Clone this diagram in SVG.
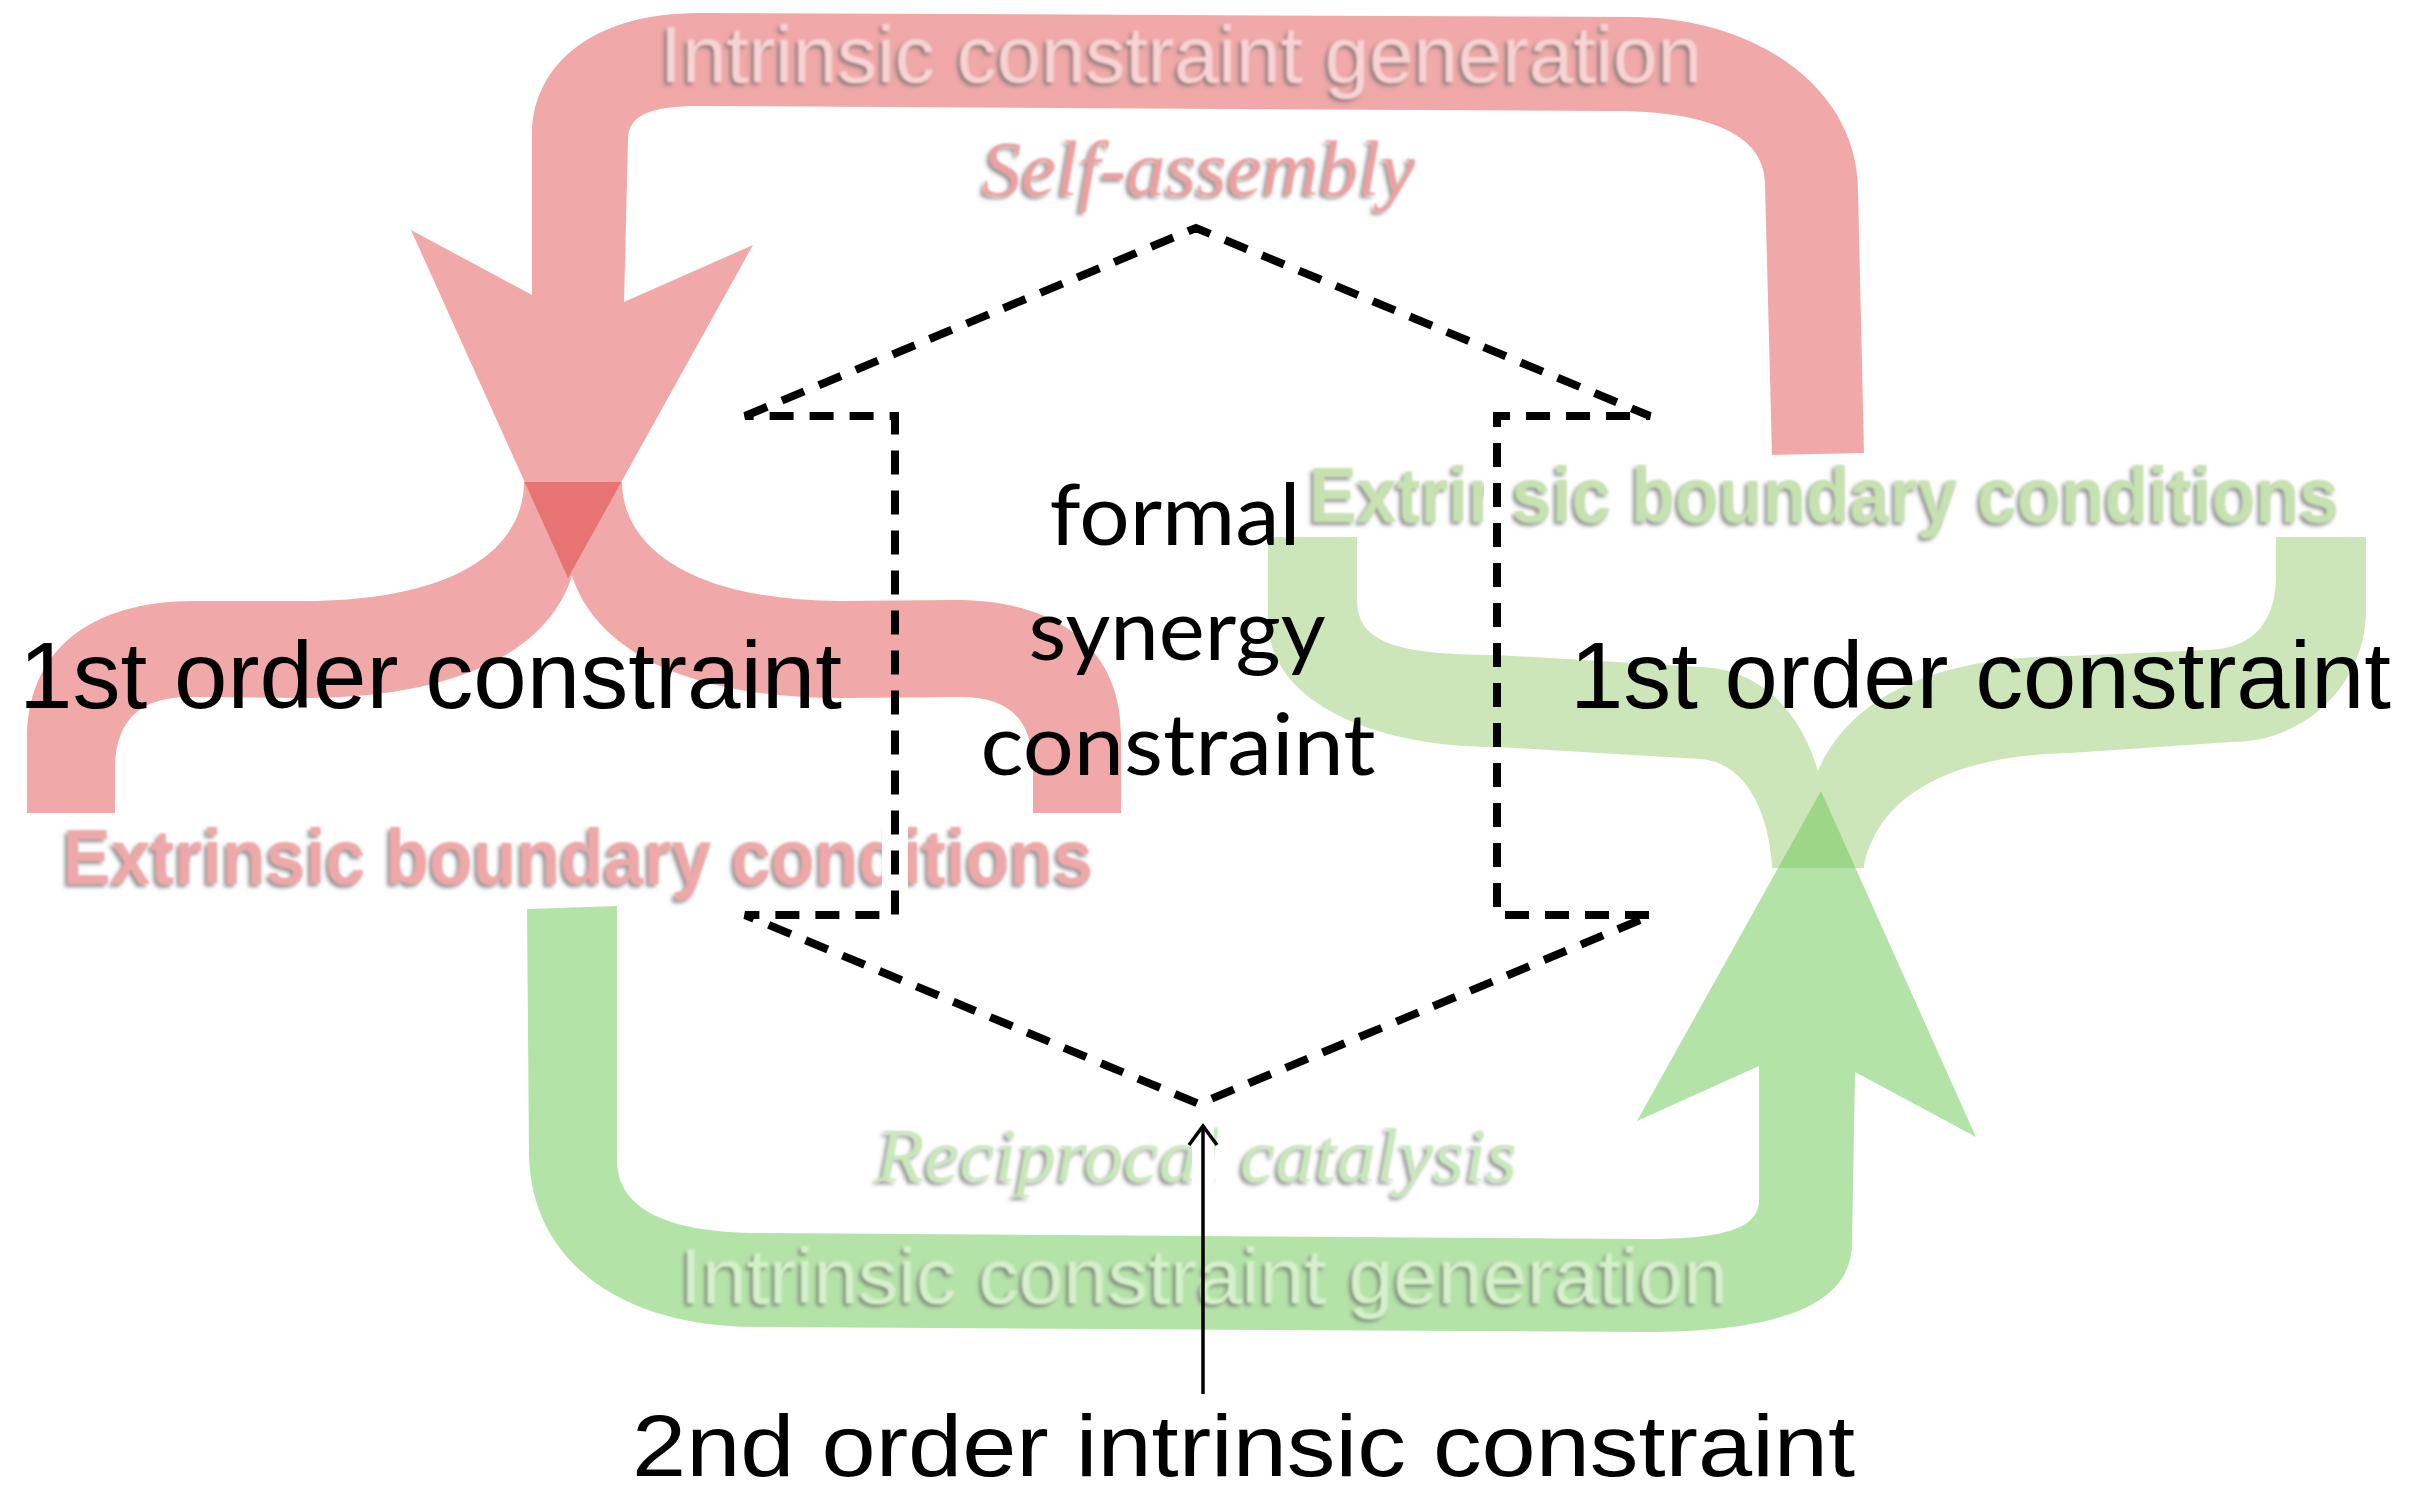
<svg xmlns="http://www.w3.org/2000/svg" width="2426" height="1495" viewBox="0 0 2426 1495">
  <style>
    .black { font-family: "Liberation Sans", Arial, sans-serif; fill: #000; }
    .gill { font-family: Lato, "Open Sans", "Liberation Sans", sans-serif; fill: #000; }
    .band-label { font-family: "Liberation Sans Narrow", "Liberation Sans", sans-serif; filter: url(#emboss); }
    .ital-label { font-family: "Liberation Serif", "Times New Roman", serif; font-style: italic; filter: url(#emboss); }
    .dash { fill: none; stroke: #000; stroke-width: 8; stroke-dasharray: 24 16; stroke-linejoin: miter; }
    .knock { fill: #fff; }
  </style>
  <defs>
    <filter id="emboss" x="-5%" y="-40%" width="110%" height="180%">
      <feGaussianBlur in="SourceAlpha" stdDeviation="2" result="a"/>
      <feOffset in="a" dx="-3" dy="3" result="s"/>
      <feFlood flood-color="#707070" flood-opacity="0.75"/>
      <feComposite in2="s" operator="in" result="sh"/>
      <feGaussianBlur in="SourceGraphic" stdDeviation="0.9" result="t"/>
      <feMerge><feMergeNode in="sh"/><feMergeNode in="t"/></feMerge>
    </filter>
  </defs>

  <rect width="2426" height="1495" fill="#fff"/>

  <!-- lower red bracket (first-order constraint, left) -->
  <g id="bracket-red">
    <path fill="#F0A8A8" d="M 524 482 L 622 482 C 622 540 680 600 840 601 L 955 600 C 1060 600 1121 650 1121 735 L 1121 813 L 1033 813 L 1033 770 C 1033 720 1010 697 960 697 L 840 698 C 705 698 600 660 572 576 C 545 660 440 698 306 698 L 190 697 C 140 697 115 720 115 770 L 115 813 L 27 813 L 27 740 C 27 650 90 601 195 601 L 306 601 C 470 600 524 540 524 482 Z"/>
  </g>

  <!-- red intrinsic loop ending in a downward arrow -->
  <g id="loop-red">
    <path fill="rgb(217,32,32)" fill-opacity="0.39" d="M 532 134 C 532 75 580 13 700 13 L 1638 17 C 1760 20 1858 90 1858 191 L 1864 453 L 1772 455 L 1765 184 C 1765 140 1720 111 1612 111 L 700 106 C 650 106 628 115 628 140 L 624 302 L 753 245 L 568 578 L 411 230 L 532 295 Z"/>
  </g>

  <!-- upper green bracket (first-order constraint, right) -->
  <g id="bracket-green">
    <path fill="#CCE6B9" d="M 1268 537 L 1357 537 L 1357 599 C 1357 640 1390 655 1497 655 L 1700 667 C 1760 669 1800 710 1818 771 C 1840 720 1900 656 2070 656 L 2209 650 C 2255 648 2276 620 2276 575 L 2276 537 L 2366 537 L 2366 610 C 2366 683 2306 742 2232 742 L 2070 753 C 1960 755 1880 790 1864 865 L 1864 868 L 1772 868 L 1772 865 C 1768 810 1745 762 1700 759 L 1497 747 C 1370 747 1268 700 1268 620 Z"/>
  </g>

  <!-- green intrinsic loop ending in an upward arrow -->
  <g id="loop-green">
    <path fill="rgb(113,202,91)" fill-opacity="0.53" d="M 527 909 L 617 906 L 617 1160 C 617 1205 660 1233 760 1233 L 1646 1239 C 1720 1239 1759 1230 1759 1200 L 1759 1066 L 1637 1121 L 1821 791 L 1976 1137 L 1855 1072 L 1852 1243 C 1852 1300 1790 1332 1646 1332 L 756 1327 C 620 1327 531 1260 529 1155 Z"/>
  </g>

  <!-- band and flow labels -->
  <g id="label-intrinsic-red">
    <text class="band-label" x="660" y="82" font-size="80" fill="#F7D3D3" textLength="1042" lengthAdjust="spacingAndGlyphs">Intrinsic constraint generation</text>
  </g>
  <g id="label-self-assembly">
    <text class="ital-label" x="982" y="195" font-size="78" fill="#EDA0A0" textLength="433" lengthAdjust="spacingAndGlyphs">Self-assembly</text>
  </g>
  <g id="label-extrinsic-green">
    <text class="band-label" x="1309" y="522" font-size="77" font-weight="bold" fill="#C6E2B0" textLength="1030" lengthAdjust="spacingAndGlyphs">Extrinsic boundary conditions</text>
  </g>
  <g id="label-extrinsic-red">
    <text class="band-label" x="63" y="884" font-size="77" font-weight="bold" fill="#EFA8A8" textLength="1030" lengthAdjust="spacingAndGlyphs">Extrinsic boundary conditions</text>
  </g>
  <g id="label-reciprocal">
    <text class="ital-label" x="876" y="1181" font-size="77" fill="#C9E8BC" textLength="641" lengthAdjust="spacingAndGlyphs">Reciprocal catalysis</text>
  </g>
  <g id="label-intrinsic-green">
    <text class="band-label" x="680" y="1303" font-size="78" fill="#D6F0CB" textLength="1048" lengthAdjust="spacingAndGlyphs">Intrinsic constraint generation</text>
  </g>

  <!-- clear strips where the dashed frame and pointer cross the labels -->
  <rect class="knock" x="1484" y="455" width="26" height="95"/>
  <rect class="knock" x="882" y="820" width="26" height="90"/>
  <rect class="knock" x="1192" y="1120" width="22" height="80"/>

  <!-- formal synergy constraint: dashed double-headed frame -->
  <g id="synergy-frame">
    <path class="dash" d="M 745 416 L 1196 228 L 1650 416 L 1497 416 L 1497 915 L 1652 915 L 1199 1104 L 745 915 L 895 915 L 895 416 Z"/>
    <text class="gill" x="1175" y="545" font-size="86" text-anchor="middle" textLength="251" lengthAdjust="spacingAndGlyphs">formal</text>
    <text class="gill" x="1177" y="660" font-size="86" text-anchor="middle" textLength="297" lengthAdjust="spacingAndGlyphs">synergy</text>
    <text class="gill" x="1178" y="775" font-size="86" text-anchor="middle" textLength="395" lengthAdjust="spacingAndGlyphs">constraint</text>
  </g>

  <!-- first-order constraint captions -->
  <g id="first-order-left">
    <text class="black" x="19" y="708" font-size="94" textLength="823" lengthAdjust="spacingAndGlyphs">1st order constraint</text>
  </g>
  <g id="first-order-right">
    <text class="black" x="1570" y="708" font-size="94" textLength="821" lengthAdjust="spacingAndGlyphs">1st order constraint</text>
  </g>

  <!-- second-order caption -->
  <g id="second-order">
    <text class="black" x="632" y="1476" font-size="88" textLength="1223" lengthAdjust="spacingAndGlyphs">2nd order intrinsic constraint</text>
  </g>

  <!-- connectors -->
  <g id="connectors" fill="none" stroke="#000" stroke-width="3.5">
    <line x1="1203" y1="1394" x2="1203" y2="1128"/>
    <polyline points="1189,1145 1203,1126 1217,1145"/>
  </g>
</svg>
